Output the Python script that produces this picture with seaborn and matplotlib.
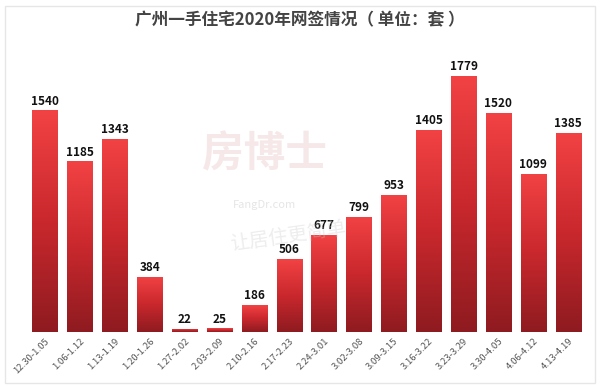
import numpy as np
import pandas as pd
import matplotlib
matplotlib.use("Agg")
import matplotlib.pyplot as plt
import seaborn as sns
from matplotlib.colors import LinearSegmentedColormap

weeks = ["12.30-1.05", "1.06-1.12", "1.13-1.19", "1.20-1.26", "1.27-2.02", "2.03-2.09",
         "2.10-2.16", "2.17-2.23", "2.24-3.01", "3.02-3.08", "3.09-3.15", "3.16-3.22",
         "3.23-3.29", "3.30-4.05", "4.06-4.12", "4.13-4.19"]
sales = [1540, 1185, 1343, 384, 22, 25, 186, 506, 677, 799, 953, 1405, 1779, 1520, 1099, 1385]

title = "广州一手住宅2020年网签情况（ 单位：套 ）"

sns.set_theme(style="white")
plt.rcParams['font.family'] = ['Noto Sans CJK SC', 'DejaVu Sans']

df = pd.DataFrame({"week": weeks, "sales": sales})

fig = plt.figure(figsize=(6, 3.87), dpi=100)
fig.patch.set_facecolor("white")
ax = fig.add_axes([0.046, 0.142, 0.93, 0.744])
sns.barplot(data=df, x="week", y="sales", ax=ax, color="#e53a3c", width=0.72, saturation=1)

cmap = LinearSegmentedColormap.from_list("rg", ["#8e1b20", "#c9282d", "#f24244"])
grad = np.linspace(0, 1, 256).reshape(-1, 1)
for p in ax.patches:
    x0, y0 = p.get_x(), p.get_y()
    w, h = p.get_width(), p.get_height()
    if h <= 0:
        continue
    im = ax.imshow(grad, cmap=cmap, origin="lower", aspect="auto",
                   extent=[x0, x0 + w, y0, y0 + h], zorder=p.get_zorder() + 0.1)
    im.set_clip_path(p)

ax.set_xlim(-0.5, len(weeks) - 0.5)
ax.set_ylim(0, 2000)
for c in ax.containers:
    ax.bar_label(c, labels=[str(v) for v in sales], padding=2, fontsize=8.5,
                 fontweight="bold", color="#111111")

ax.set_xlabel("")
ax.set_ylabel("")
ax.set_yticks([])
ax.tick_params(axis="x", length=0, pad=3)
for lab in ax.get_xticklabels():
    lab.set_rotation(45)
    lab.set_ha("right")
    lab.set_rotation_mode("anchor")
    lab.set_fontsize(6.8)
    lab.set_color("#555555")
for s in ax.spines.values():
    s.set_visible(False)
ax.set_facecolor("none")

fig.text(0.5, 0.948, title, ha="center", va="center", fontsize=12, fontweight="bold", color="#444444")

# faint watermark
fig.text(0.44, 0.6, "房博士", fontsize=30, color="#e3b5b5", alpha=0.3, ha="center", va="center", fontweight="bold")
fig.text(0.44, 0.47, "FangDr.com", fontsize=8, color="#cccccc", alpha=0.5, ha="center", va="center")
fig.text(0.48, 0.39, "让居住更简单", fontsize=14, color="#cccccc", alpha=0.35, ha="center", va="center", rotation=8)

# light border
from matplotlib.patches import Rectangle
fig.patches.append(Rectangle((0.008, 0.01), 0.984, 0.975, transform=fig.transFigure,
                             fill=False, edgecolor="#e6e6e6", linewidth=1))

fig.savefig("out.png", dpi=100)
